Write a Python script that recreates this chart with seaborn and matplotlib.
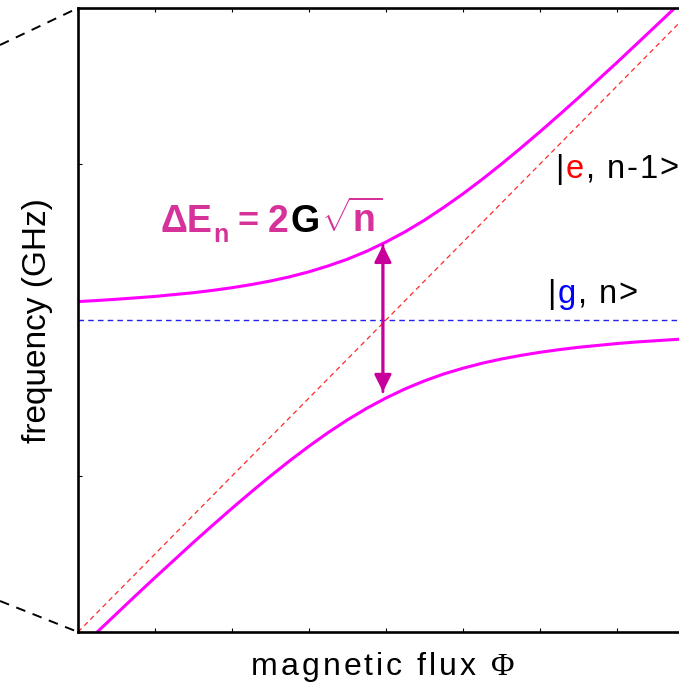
import numpy as np
import pandas as pd
import matplotlib
matplotlib.use("Agg")
import matplotlib.pyplot as plt
from matplotlib.lines import Line2D
import seaborn as sns

# ---------------- data ----------------
flux = [0.0, 0.25, 0.5, 0.75, 1.0, 1.25, 1.5, 1.75, 2.0, 2.25, 2.5, 2.75, 3.0,
        3.25, 3.5, 3.75, 4.0, 4.25, 4.5, 4.75, 5.0, 5.25, 5.5, 5.75, 6.0, 6.25,
        6.5, 6.75, 7.0, 7.25, 7.5, 7.75, 8.0]
upper_branch = [2.118, 2.125, 2.133, 2.142, 2.151, 2.163, 2.175, 2.190, 2.207,
                2.227, 2.250, 2.277, 2.309, 2.347, 2.390, 2.441, 2.500, 2.566,
                2.640, 2.722, 2.809, 2.902, 3.000, 3.102, 3.207, 3.315, 3.425,
                3.538, 3.651, 3.767, 3.883, 4.000, 4.118]
lower_branch = [-0.118, 0.000, 0.117, 0.234, 0.349, 0.462, 0.575, 0.685, 0.793,
                0.898, 1.000, 1.098, 1.191, 1.279, 1.360, 1.434, 1.500, 1.559,
                1.610, 1.654, 1.691, 1.723, 1.750, 1.773, 1.793, 1.810, 1.825,
                1.837, 1.849, 1.859, 1.867, 1.875, 1.882]
e_state_x = [0.0, 8.0]
e_state_y = [0.0, 4.0]
g_state_x = [0.0, 8.0]
g_state_y = [2.0, 2.0]
gap_x = 3.96
gap_top = 2.48
gap_bottom = 1.54
x_ticks = [0, 1, 2, 3, 4, 5, 6, 7, 8]
y_ticks = [0, 1, 2, 3, 4]

xlabel_text = "magnetic flux "
xlabel_symbol = "\u03a6"
ylabel_text = "frequency (GHz)"

# ---------------- figure ----------------
sns.set_style("white")
plt.rcParams["font.family"] = ["Liberation Sans", "DejaVu Sans"]
plt.rcParams["mathtext.fontset"] = "custom"
plt.rcParams["mathtext.rm"] = "Liberation Sans"
plt.rcParams["mathtext.bf"] = "Liberation Sans:bold"
plt.rcParams["mathtext.it"] = "Liberation Sans:italic"

W, H = 679, 685
fig = plt.figure(figsize=(W / 100, H / 100), dpi=100)
fig.patch.set_facecolor("white")

def fx(px):
    return px / W

def fy(py):
    return 1 - py / H

ax = fig.add_axes([fx(78), fy(632), fx(694) - fx(78), fy(8) - fy(632)])
ax.set_xlim(0, 8)
ax.set_ylim(0, 4)

MAG = "#FF00FF"
ARROW = "#C8009B"
TXT = "#D6339A"

df_u = pd.DataFrame({"x": flux, "y": upper_branch})
df_l = pd.DataFrame({"x": flux, "y": lower_branch})
df_e = pd.DataFrame({"x": e_state_x, "y": e_state_y})
df_g = pd.DataFrame({"x": g_state_x, "y": g_state_y})

sns.lineplot(data=df_e, x="x", y="y", ax=ax, color="#FF2A2A", lw=0.9,
             linestyle=(0, (4, 3)), estimator=None)
sns.lineplot(data=df_g, x="x", y="y", ax=ax, color="#2222EE", lw=1.0,
             linestyle=(0, (4, 3)), estimator=None)
sns.lineplot(data=df_u, x="x", y="y", ax=ax, color=MAG, lw=2.2, estimator=None)
sns.lineplot(data=df_l, x="x", y="y", ax=ax, color=MAG, lw=2.2, estimator=None)

ax.annotate("", xy=(gap_x, gap_bottom), xytext=(gap_x, gap_top),
            arrowprops=dict(arrowstyle="-|>", color=ARROW, lw=2.0,
                            mutation_scale=26, shrinkA=0, shrinkB=0))
ax.annotate("", xy=(gap_x, gap_top), xytext=(gap_x, gap_bottom),
            arrowprops=dict(arrowstyle="-|>", color=ARROW, lw=2.0,
                            mutation_scale=26, shrinkA=0, shrinkB=0))

ax.set_xticks(x_ticks)
ax.set_yticks(y_ticks)
ax.set_xticklabels([])
ax.set_yticklabels([])
ax.tick_params(direction="in", length=3, width=0.8, color="black",
               top=True, bottom=True, left=True, right=False)
ax.set_xlabel("")
ax.set_ylabel("")
for side in ["left", "bottom", "top", "right"]:
    ax.spines[side].set_color("black")
    ax.spines[side].set_linewidth(1.9)

# dashed guide lines outside the frame
fig.add_artist(Line2D([fx(0), fx(78)], [fy(45), fy(8)], transform=fig.transFigure,
                      color="black", lw=1.4, linestyle=(0, (5, 4))))
fig.add_artist(Line2D([fx(0), fx(78)], [fy(601), fy(632)], transform=fig.transFigure,
                      color="black", lw=1.4, linestyle=(0, (5, 4))))

# ---------------- text helpers ----------------
def spaced(x_px, y_px, segments, spacing, size):
    """segments: list of (string, color, family) ; characters placed one by one."""
    prev = None
    for s, col, fam in segments:
        for ch in s:
            if prev is None:
                prev = fig.text(fx(x_px), fy(y_px), ch, color=col, fontsize=size,
                                family=fam, ha="left", va="baseline")
            else:
                prev = ax.annotate(ch, xy=(1, 0), xycoords=prev,
                                   xytext=(spacing, 0), textcoords="offset pixels",
                                   ha="left", va="bottom", color=col,
                                   fontsize=size, family=fam, annotation_clip=False)

SANS = ["Liberation Sans", "DejaVu Sans"]
SERIF = ["Liberation Serif", "DejaVu Serif"]

spaced(251, 675, [(xlabel_text, "black", SANS), (xlabel_symbol, "black", SERIF)],
       3.0, 23)
fig.text(fx(38), fy(321), ylabel_text, rotation=90, ha="center", va="center",
         fontsize=24, color="black")

spaced(555, 178, [("|", "black", SANS), ("e", "#FF0000", SANS),
                  (", n-1>", "black", SANS)], 1.8, 23.5)
spaced(547, 303, [("|", "black", SANS), ("g", "#0000FF", SANS),
                  (", n>", "black", SANS)], 1.8, 23.5)

# Delta E_n = 2 G sqrt(n)
fig.text(fx(160), fy(232), "\u0394E", color=TXT, fontsize=27, weight="bold",
         ha="left", va="baseline")
fig.text(fx(213), fy(242), "n", color=TXT, fontsize=18, weight="bold",
         ha="left", va="baseline")
fig.text(fx(238), fy(232), "=", color=TXT, fontsize=26, weight="bold",
         ha="left", va="baseline")
fig.text(fx(268), fy(232), "2", color=TXT, fontsize=27, weight="bold",
         ha="left", va="baseline")
fig.text(fx(290), fy(232), "G", color="black", fontsize=27, weight="bold",
         ha="left", va="baseline")
fig.text(fx(321), fy(232), r"$\sqrt{\mathbf{n}}$", color=TXT, fontsize=27,
         ha="left", va="baseline")

fig.savefig("out.png", dpi=100, facecolor="white")
